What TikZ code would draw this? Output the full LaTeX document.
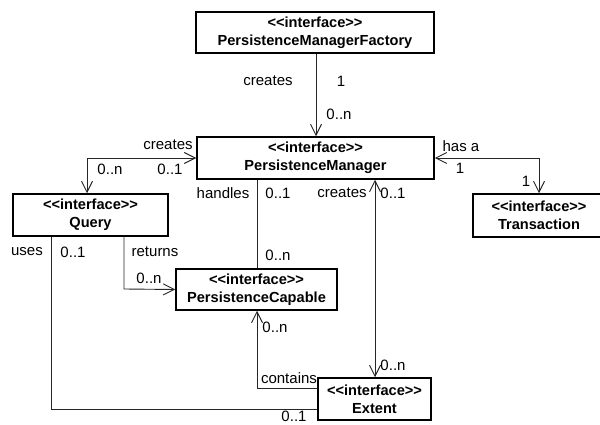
\documentclass[tikz,border=0pt]{standalone}
\usepackage{fontspec}
\setmainfont{Liberation Sans}
\usetikzlibrary{arrows.meta}
\newcommand{\stereotype}{{<}{<}interface{>}{>}}
\begin{document}
\begin{tikzpicture}[x=1pt,y=-1pt,
  iface/.style={draw=black, line width=1.5pt, fill=white, rectangle,
    align=center, inner sep=0pt, font=\fontsize{14.6}{18}\selectfont\bfseries},
  link/.style={draw=black!85, line width=0.9pt},
  barb/.style={-{Straight Barb[length=11pt,width=11pt]}},
  barbs/.style={{Straight Barb[length=11pt,width=11pt]}-{Straight Barb[length=11pt,width=11pt]}},
  lbl/.style={font=\fontsize{15}{17}\selectfont, inner sep=0pt}]
\useasboundingbox (0,0) rectangle (600,425);

% interfaces
\node[iface, minimum width=238, minimum height=41] (pmf) at (315,32.5)
  {\stereotype\\PersistenceManagerFactory};
\node[iface, minimum width=237, minimum height=42] (pm) at (315.5,158)
  {\stereotype\\PersistenceManager};
\node[iface, minimum width=155, minimum height=42] (query) at (90.5,215)
  {\stereotype\\Query};
\node[iface, minimum width=132, minimum height=43] (tx) at (539,215.5)
  {\stereotype\\Transaction};
\node[iface, minimum width=161, minimum height=41] (pc) at (256.5,289.5)
  {\stereotype\\PersistenceCapable};
\node[iface, minimum width=113, minimum height=42] (ext) at (374.5,399)
  {\stereotype\\Extent};

% bend points
\coordinate (qc) at (87,158);
\coordinate (tc) at (539,158);
\coordinate (qr) at (124,289);
\coordinate (qu) at (51,409);
\coordinate (ec) at (257,388);

% factory creates manager
\draw[link, barb] (pmf.south -| 316,0) -- (pm.north -| 316,0);
\node[lbl] (l1) at (268,81) {creates};
\node[lbl] (l2) at (341,81) {1};
\node[lbl] (l3) at (339,114) {0..n};

% manager creates query
\draw[link, barbs] (pm.west) -- (qc) -- (query.north -| qc);
\node[lbl] (l4) at (168,145) {creates};
\node[lbl] (l5) at (170,169) {0..1};
\node[lbl] (l6) at (110,169) {0..n};

% manager has a transaction
\draw[link, barbs] (pm.east) -- (tc) -- (tx.north);
\node[lbl] (l7) at (461,146) {has a};
\node[lbl] (l8) at (460,168) {1};
\node[lbl] (l9) at (526,181) {1};

% manager handles capable
\draw[link] (pm.south -| 257,0) -- (pc.north -| 257,0);
\node[lbl] (l10) at (223,193) {handles};
\node[lbl] (l11) at (278,193) {0..1};
\node[lbl] (l12) at (278,255) {0..n};

% manager creates extent
\draw[link, barbs] (pm.south -| 375,0) -- (ext.north -| 375,0);
\node[lbl] (l13) at (342,193) {creates};
\node[lbl] (l14) at (393,193) {0..1};
\node[lbl] (l15) at (393,365) {0..n};

% query returns capable
\draw[link, barb] (query.south -| qr) -- (qr) -- (pc.west);
\node[lbl] (l16) at (155,252) {returns};
\node[lbl] (l17) at (149,278) {0..n};

% query uses extent
\draw[link] (query.south -| qu) -- (qu) -- (ext.west |- qu);
\node[lbl] (l18) at (27,252) {uses};
\node[lbl] (l19) at (73,252) {0..1};
\node[lbl] (l20) at (294,416.5) {0..1};

% extent contains capable
\draw[link, barb] (ext.west |- ec) -- (ec) -- (pc.south -| ec);
\node[lbl] (l21) at (289,378) {contains};
\node[lbl] (l22) at (275,327) {0..n};
\end{tikzpicture}
\end{document}
